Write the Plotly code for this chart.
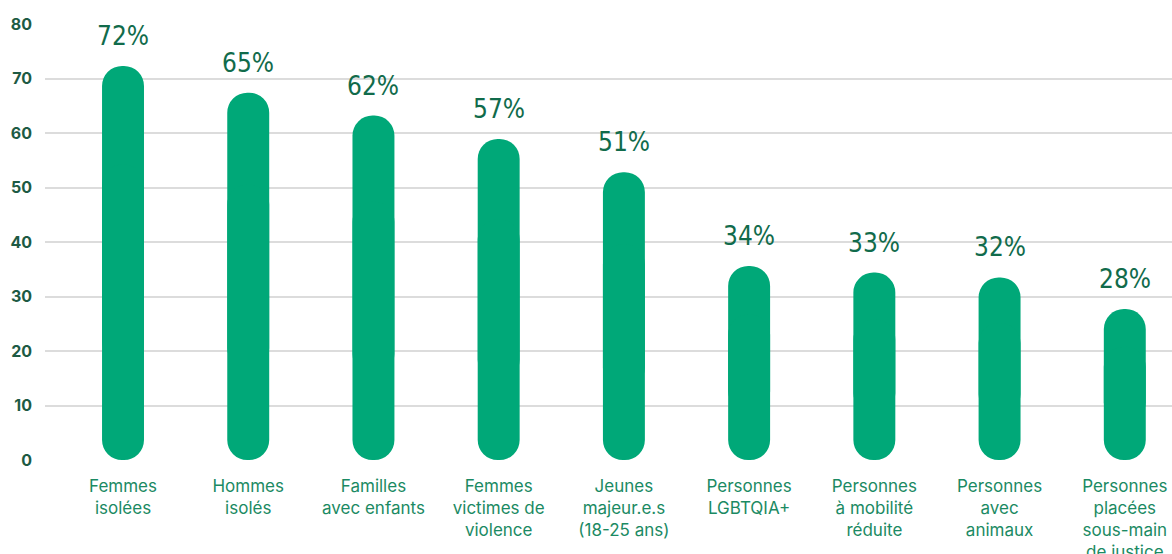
import plotly.graph_objects as go

categories = [
    "Femmes<br>isolées",
    "Hommes<br>isolés",
    "Familles<br>avec enfants",
    "Femmes<br>victimes de<br>violence",
    "Jeunes<br>majeur.e.s<br>(18-25 ans)",
    "Personnes<br>LGBTQIA+",
    "Personnes<br>à mobilité<br>réduite",
    "Personnes<br>avec<br>animaux",
    "Personnes<br>placées<br>sous-main<br>de justice",
]
bar_heights = [72.3, 67.4, 63.2, 58.9, 52.8, 35.6, 34.4, 33.5, 27.7]
value_labels = ["72%", "65%", "62%", "57%", "51%", "34%", "33%", "32%", "28%"]
y_ticks = [0, 10, 20, 30, 40, 50, 60, 70, 80]

BAR = "#00a878"
DARK = "#116b4b"
LABEL = "#1b8a63"

idx = list(range(len(categories)))
low = [h * 0.25 for h in bar_heights]
high = [h * 0.75 for h in bar_heights]

fig = go.Figure()
# upper part (rounded top)
fig.add_trace(go.Bar(x=idx, y=[h - b for h, b in zip(bar_heights, low)], base=low,
                     width=0.335,
                     marker=dict(color=BAR, cornerradius="50%", line=dict(width=0)),
                     hoverinfo="skip"))
# lower part (rounded bottom)
fig.add_trace(go.Bar(x=idx, y=[-b for b in high], base=high, width=0.335,
                     marker=dict(color=BAR, cornerradius="50%", line=dict(width=0)),
                     hoverinfo="skip"))

for i, (h, t) in enumerate(zip(bar_heights, value_labels)):
    fig.add_annotation(x=i, y=h, text=t, showarrow=False, yanchor="bottom",
                       yshift=13,
                       font=dict(family="DejaVu Sans Condensed, DejaVu Sans", size=26,
                                 color=DARK))

fig.update_layout(
    width=1172, height=554,
    margin=dict(l=45, r=0, t=24, b=94),
    barmode="overlay",
    showlegend=False,
    hovermode=False,
    plot_bgcolor="white", paper_bgcolor="white",
    xaxis=dict(range=[-0.623, 8.377], tickmode="array", tickvals=idx,
               ticktext=categories, showgrid=False, zeroline=False,
               showline=False, ticks="", ticklabelstandoff=14, automargin=False,
               tickfont=dict(family="Inter", size=17, color=LABEL)),
    yaxis=dict(range=[0, 80], tickmode="array", tickvals=y_ticks,
               showgrid=True, gridcolor="#dcdcdc", gridwidth=2,
               zeroline=False, showline=False, ticks="", automargin=False,
               ticklabelstandoff=12,
               tickfont=dict(family="Inter", size=16, color="#1d5a44", weight="bold")),
)

fig.write_html("out.html",
               config={"displayModeBar": False},
               post_script="document.body.style.margin='0';document.body.style.overflow='hidden';")
